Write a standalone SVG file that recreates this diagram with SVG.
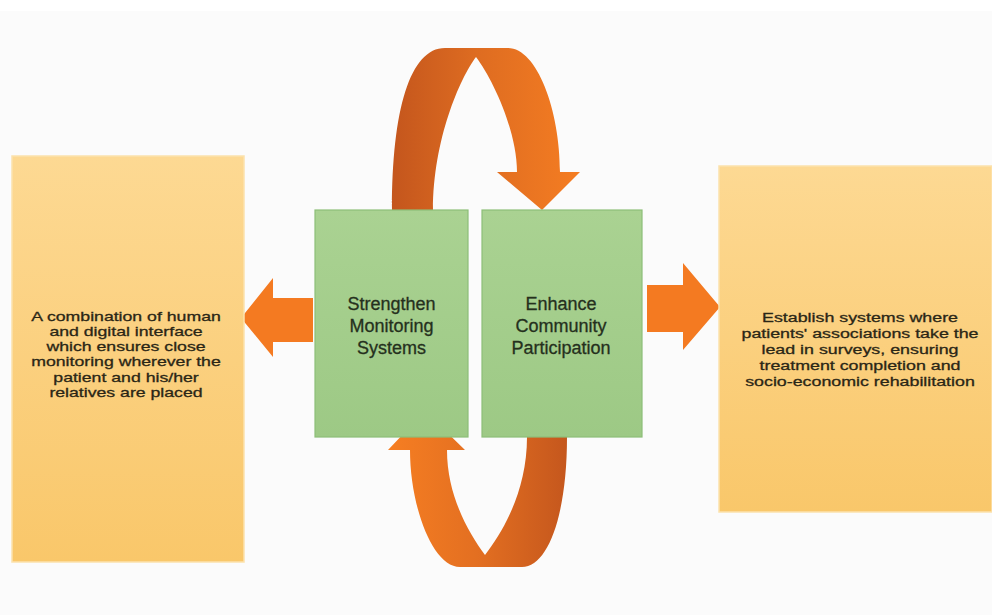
<svg xmlns="http://www.w3.org/2000/svg" width="992" height="615" viewBox="0 0 992 615">
<defs>
<linearGradient id="gOrangeBox" x1="0" y1="0" x2="0" y2="1">
<stop offset="0" stop-color="#fdd993"/>
<stop offset="1" stop-color="#f9c76a"/>
</linearGradient>
<linearGradient id="gGreen" x1="0" y1="0" x2="0" y2="1">
<stop offset="0" stop-color="#aad292"/>
<stop offset="1" stop-color="#9dc985"/>
</linearGradient>
<linearGradient id="gTop" gradientUnits="userSpaceOnUse" x1="392" y1="0" x2="580" y2="0">
<stop offset="0" stop-color="#c4561d"/>
<stop offset="0.45" stop-color="#de6c21"/>
<stop offset="1" stop-color="#f57d22"/>
</linearGradient>
<linearGradient id="gBottom" gradientUnits="userSpaceOnUse" x1="388" y1="0" x2="567" y2="0">
<stop offset="0" stop-color="#f67e22"/>
<stop offset="0.5" stop-color="#e36f21"/>
<stop offset="1" stop-color="#c5571d"/>
</linearGradient>
</defs>
<style>
.obox{fill:url(#gOrangeBox);stroke:#fce2ad;stroke-width:1.5}
.gbox{fill:url(#gGreen);stroke:#8dbf78;stroke-width:1.2}
.arr{fill:#f47a21}
.t{font-family:"Liberation Sans",Arial,sans-serif;fill:#2a2616;stroke:#2a2616;stroke-width:0.3;text-anchor:middle}
.ts{font-size:13.5px}
.tg{font-size:18px;fill:#25301d;stroke:#25301d}
</style>
<rect x="0" y="0" width="992" height="615" fill="#fbfbfb"/>
<rect x="0" y="0" width="992" height="11" fill="#ffffff"/>

<g id="connectors">
<path id="arrow-top" fill="url(#gTop)" d="M392,210 C392,110 410,48 445,48 L508,48 C537,48 560,110 560,172 L580,172 L542,210 L497,172 L517,172 C517,130 492,78 476,57 C460,78 433,140 433,210 Z"/>
<path id="arrow-bottom" fill="url(#gBottom)" d="M425,411 L465,450 L447,450 C447,495 468,532 485,555 C504,530 527,490 527,437 L567,437 C567,515 548,567 522,567 L460,567 C432,567 410,505 410,450 L388,450 Z"/>
<polygon id="arrow-left" class="arr" points="241,318 273,278 273,298 313,298 313,342 273,342 273,357"/>
<polygon id="arrow-right" class="arr" points="647,285 683,285 683,263 720,307 683,350 683,332 647,332"/>
</g>

<g id="node-left">
<rect class="obox" x="12" y="156" width="232" height="406"/>
<g transform="translate(126,0) scale(1.31,1)">
<text class="t ts" x="0" y="321">A combination of human</text>
<text class="t ts" x="0" y="336">and digital interface</text>
<text class="t ts" x="0" y="351">which ensures close</text>
<text class="t ts" x="0" y="366.5">monitoring wherever the</text>
<text class="t ts" x="0" y="382">patient and his/her</text>
<text class="t ts" x="0" y="397">relatives are placed</text>
</g>
</g>

<g id="node-strengthen">
<rect class="gbox" x="315" y="210" width="153" height="227"/>
<text class="t tg" x="391.5" y="310">Strengthen</text>
<text class="t tg" x="391.5" y="332">Monitoring</text>
<text class="t tg" x="391.5" y="354">Systems</text>
</g>

<g id="node-enhance">
<rect class="gbox" x="482" y="210" width="160" height="227"/>
<text class="t tg" x="561" y="310">Enhance</text>
<text class="t tg" x="561" y="332">Community</text>
<text class="t tg" x="561" y="354">Participation</text>
</g>

<g id="node-right">
<rect class="obox" x="719" y="166" width="273" height="346"/>
<g transform="translate(860,0) scale(1.32,1)">
<text class="t ts" x="0" y="322">Establish systems where</text>
<text class="t ts" x="0" y="338">patients' associations take the</text>
<text class="t ts" x="0" y="354">lead in surveys, ensuring</text>
<text class="t ts" x="0" y="370">treatment completion and</text>
<text class="t ts" x="0" y="386.5">socio-economic rehabilitation</text>
</g>
</g>
</svg>
